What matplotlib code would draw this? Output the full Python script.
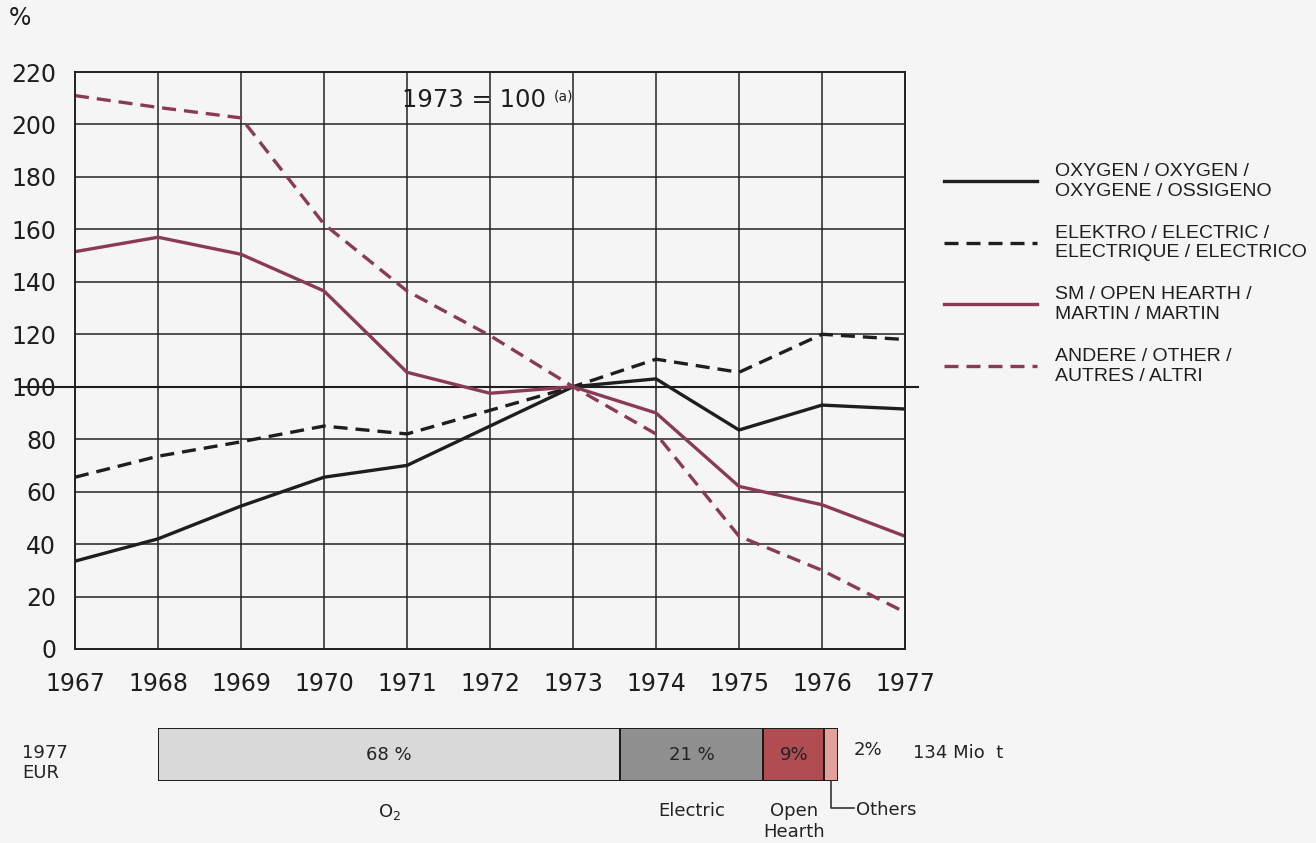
import matplotlib
matplotlib.use("Agg")
import matplotlib.pyplot as plt
import numpy as np

plt.rcParams['font.family'] = ['DejaVu Sans']

years = [1967, 1968, 1969, 1970, 1971, 1972, 1973, 1974, 1975, 1976, 1977]
oxygen = [33.5, 42, 54.5, 65.5, 70, 85, 100, 103, 83.5, 93, 91.5]
electric = [65.5, 73.5, 79, 85, 82, 91, 100, 110.5, 105.5, 120, 118]
open_hearth = [151.5, 157, 150.5, 136.5, 105.5, 97.5, 100, 90, 62, 55, 43]
others = [211, 206.5, 202.5, 162, 136.5, 119.5, 100, 82, 43, 30, 14]

series_labels = ["OXYGEN / OXYGEN /\nOXYGENE / OSSIGENO",
                 "ELEKTRO / ELECTRIC /\nELECTRIQUE / ELECTRICO",
                 "SM / OPEN HEARTH /\nMARTIN / MARTIN",
                 "ANDERE / OTHER /\nAUTRES / ALTRI"]

share_names = ["O$_2$", "Electric", "Open\nHearth", "Others"]
share_values = [68, 21, 9, 2]
share_texts = ["68 %", "21 %", "9%", "2%"]
share_colors = ["#d9d9d9", "#8f8f8f", "#b04c52", "#e2a09c"]

yticks = list(range(0, 221, 20))

BG = "#f5f5f5"
MAROON = "#8a3a58"
INK = "#1e1e1e"
W, H = 1316, 843
fig = plt.figure(figsize=(W / 100, H / 100), dpi=100, facecolor=BG)

def fx(px):
    return px / W

def fy(py):
    return 1 - py / H

ax = fig.add_axes([fx(75), fy(649), fx(905) - fx(75), fy(72) - fy(649)])
ax.set_facecolor(BG)
ax.set_xlim(1967, 1977)
ax.set_ylim(0, 220)
ax.set_xticks(years)
ax.set_yticks(yticks)
ax.tick_params(axis='both', length=0, labelsize=17, labelcolor=INK)
ax.tick_params(axis='y', pad=13.5)
ax.tick_params(axis='x', pad=16.5)
ax.grid(True, color='#222222', linewidth=1.1)
ax.set_axisbelow(True)
for s in ax.spines.values():
    s.set_linewidth(1.4)
    s.set_color('#222222')

lw = 2.4
l1, = ax.plot(years, oxygen, color=INK, lw=lw, solid_joinstyle='miter')
l2, = ax.plot(years, electric, color=INK, lw=lw, dashes=(4.2, 2.4))
l3, = ax.plot(years, open_hearth, color=MAROON, lw=lw, solid_joinstyle='miter')
l4, = ax.plot(years, others, color=MAROON, lw=lw, dashes=(4.2, 2.4))

# 100 reference line extending beyond the axes
ax.plot([-0.066, 1.016], [100, 100], color=INK, lw=1.5,
        transform=ax.get_yaxis_transform(), clip_on=False, zorder=1.5)

fig.text(fx(474), fy(100), "1973 = 100", fontsize=17.5, ha='center',
         va='center', color=INK)
fig.text(fx(554), fy(96), "(a)", fontsize=10, ha='left', va='center',
         color=INK)
fig.text(fx(9), fy(18), "%", fontsize=17, ha='left', va='center', color=INK)

# legend
leg = fig.legend([l1, l2, l3, l4], series_labels, loc='upper left',
                 bbox_to_anchor=(fx(944), fy(163)), frameon=False,
                 borderpad=0, borderaxespad=0,
                 prop={'family': 'Liberation Sans', 'size': 14},
                 handlelength=4.8, handletextpad=0.93,
                 labelspacing=1.27)
for t in leg.get_texts():
    t.set_linespacing(1.22)
    t.set_color(INK)

# share bar
bx = fig.add_axes([fx(158), fy(781), fx(838) - fx(158), fy(728) - fy(781)])
bx.set_xlim(0, sum(share_values))
bx.set_ylim(-0.5, 0.5)
bx.axis('off')
lefts = np.cumsum([0] + share_values[:-1])
bx.barh([0] * len(share_values), share_values, left=lefts, height=1.0,
        color=share_colors, edgecolor='#1a1a1a', linewidth=1.4)
for i in range(3):
    bx.text(lefts[i] + share_values[i] / 2, 0.0, share_texts[i], ha='center',
            va='center', fontsize=13, color='#222222')
fig.text(fx(854), fy(750), share_texts[3], ha='left', va='center',
         fontsize=13, color='#222222')
fig.text(fx(913), fy(753), "134 Mio  t", ha='left', va='center',
         fontsize=13, color='#222222')
# names below
for i in range(3):
    bx.text(lefts[i] + share_values[i] / 2, -0.9, share_names[i],
            ha='center', va='top', fontsize=13, color='#222222',
            linespacing=1.2)
# Others callout
ox = lefts[3] + share_values[3] / 2
bx.plot([ox, ox, ox + 3.3], [-0.5, -1.0, -1.0], color='#222222', lw=1.1,
        clip_on=False)
bx.text(ox + 3.7, -1.05, share_names[3], ha='left', va='center',
        fontsize=13, color='#222222')
fig.text(fx(22), fy(763), "1977\nEUR", ha='left', va='center', fontsize=13,
         color='#222222', linespacing=1.2)

fig.savefig("out.png", dpi=100, facecolor=BG)
